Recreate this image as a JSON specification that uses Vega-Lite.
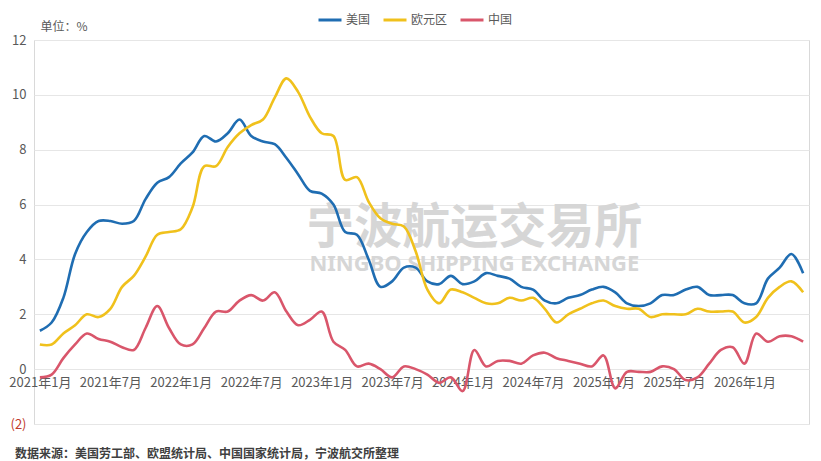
{
  "$schema": "https://vega.github.io/schema/vega-lite/v6.json",
  "autosize": "none",
  "width": 775,
  "height": 384,
  "padding": {"left": 34, "top": 40, "right": 12, "bottom": 37},
  "background": "white",
  "config": {
    "font": "Noto Sans CJK SC",
    "view": {"stroke": "#d9d9d9", "strokeWidth": 1}
  },
  "title": {
    "text": "数据来源：美国劳工部、欧盟统计局、中国国家统计局，宁波航交所整理",
    "orient": "bottom",
    "anchor": "start",
    "frame": "group",
    "dx": -19,
    "offset": 18,
    "baseline": "top",
    "fontSize": 12,
    "fontWeight": "bold",
    "color": "#404040",
    "font": "Noto Sans CJK SC"
  },
  "datasets": {
    "cpi": [
      {"m": "2021年1月", "美国": 1.4, "欧元区": 0.9, "中国": -0.3},
      {"m": "2021年2月", "美国": 1.7, "欧元区": 0.9, "中国": -0.2},
      {"m": "2021年3月", "美国": 2.6, "欧元区": 1.3, "中国": 0.4},
      {"m": "2021年4月", "美国": 4.2, "欧元区": 1.6, "中国": 0.9},
      {"m": "2021年5月", "美国": 5.0, "欧元区": 2.0, "中国": 1.3},
      {"m": "2021年6月", "美国": 5.4, "欧元区": 1.9, "中国": 1.1},
      {"m": "2021年7月", "美国": 5.4, "欧元区": 2.2, "中国": 1.0},
      {"m": "2021年8月", "美国": 5.3, "欧元区": 3.0, "中国": 0.8},
      {"m": "2021年9月", "美国": 5.4, "欧元区": 3.4, "中国": 0.7},
      {"m": "2021年10月", "美国": 6.2, "欧元区": 4.1, "中国": 1.5},
      {"m": "2021年11月", "美国": 6.8, "欧元区": 4.9, "中国": 2.3},
      {"m": "2021年12月", "美国": 7.0, "欧元区": 5.0, "中国": 1.5},
      {"m": "2022年1月", "美国": 7.5, "欧元区": 5.1, "中国": 0.9},
      {"m": "2022年2月", "美国": 7.9, "欧元区": 5.9, "中国": 0.9},
      {"m": "2022年3月", "美国": 8.5, "欧元区": 7.4, "中国": 1.5},
      {"m": "2022年4月", "美国": 8.3, "欧元区": 7.4, "中国": 2.1},
      {"m": "2022年5月", "美国": 8.6, "欧元区": 8.1, "中国": 2.1},
      {"m": "2022年6月", "美国": 9.1, "欧元区": 8.6, "中国": 2.5},
      {"m": "2022年7月", "美国": 8.5, "欧元区": 8.9, "中国": 2.7},
      {"m": "2022年8月", "美国": 8.3, "欧元区": 9.1, "中国": 2.5},
      {"m": "2022年9月", "美国": 8.2, "欧元区": 9.9, "中国": 2.8},
      {"m": "2022年10月", "美国": 7.7, "欧元区": 10.6, "中国": 2.1},
      {"m": "2022年11月", "美国": 7.1, "欧元区": 10.1, "中国": 1.6},
      {"m": "2022年12月", "美国": 6.5, "欧元区": 9.2, "中国": 1.8},
      {"m": "2023年1月", "美国": 6.4, "欧元区": 8.6, "中国": 2.1},
      {"m": "2023年2月", "美国": 6.0, "欧元区": 8.5, "中国": 1.0},
      {"m": "2023年3月", "美国": 5.0, "欧元区": 6.9, "中国": 0.7},
      {"m": "2023年4月", "美国": 4.9, "欧元区": 7.0, "中国": 0.1},
      {"m": "2023年5月", "美国": 4.0, "欧元区": 6.1, "中国": 0.2},
      {"m": "2023年6月", "美国": 3.0, "欧元区": 5.5, "中国": 0.0},
      {"m": "2023年7月", "美国": 3.2, "欧元区": 5.3, "中国": -0.3},
      {"m": "2023年8月", "美国": 3.7, "欧元区": 5.2, "中国": 0.1},
      {"m": "2023年9月", "美国": 3.7, "欧元区": 4.3, "中国": 0.0},
      {"m": "2023年10月", "美国": 3.2, "欧元区": 2.9, "中国": -0.2},
      {"m": "2023年11月", "美国": 3.1, "欧元区": 2.4, "中国": -0.5},
      {"m": "2023年12月", "美国": 3.4, "欧元区": 2.9, "中国": -0.3},
      {"m": "2024年1月", "美国": 3.1, "欧元区": 2.8, "中国": -0.8},
      {"m": "2024年2月", "美国": 3.2, "欧元区": 2.6, "中国": 0.7},
      {"m": "2024年3月", "美国": 3.5, "欧元区": 2.4, "中国": 0.1},
      {"m": "2024年4月", "美国": 3.4, "欧元区": 2.4, "中国": 0.3},
      {"m": "2024年5月", "美国": 3.3, "欧元区": 2.6, "中国": 0.3},
      {"m": "2024年6月", "美国": 3.0, "欧元区": 2.5, "中国": 0.2},
      {"m": "2024年7月", "美国": 2.9, "欧元区": 2.6, "中国": 0.5},
      {"m": "2024年8月", "美国": 2.5, "欧元区": 2.2, "中国": 0.6},
      {"m": "2024年9月", "美国": 2.4, "欧元区": 1.7, "中国": 0.4},
      {"m": "2024年10月", "美国": 2.6, "欧元区": 2.0, "中国": 0.3},
      {"m": "2024年11月", "美国": 2.7, "欧元区": 2.2, "中国": 0.2},
      {"m": "2024年12月", "美国": 2.9, "欧元区": 2.4, "中国": 0.1},
      {"m": "2025年1月", "美国": 3.0, "欧元区": 2.5, "中国": 0.5},
      {"m": "2025年2月", "美国": 2.8, "欧元区": 2.3, "中国": -0.7},
      {"m": "2025年3月", "美国": 2.4, "欧元区": 2.2, "中国": -0.1},
      {"m": "2025年4月", "美国": 2.3, "欧元区": 2.2, "中国": -0.1},
      {"m": "2025年5月", "美国": 2.4, "欧元区": 1.9, "中国": -0.1},
      {"m": "2025年6月", "美国": 2.7, "欧元区": 2.0, "中国": 0.1},
      {"m": "2025年7月", "美国": 2.7, "欧元区": 2.0, "中国": 0.0},
      {"m": "2025年8月", "美国": 2.9, "欧元区": 2.0, "中国": -0.4},
      {"m": "2025年9月", "美国": 3.0, "欧元区": 2.2, "中国": -0.3},
      {"m": "2025年10月", "美国": 2.7, "欧元区": 2.1, "中国": 0.2},
      {"m": "2025年11月", "美国": 2.7, "欧元区": 2.1, "中国": 0.7},
      {"m": "2025年12月", "美国": 2.7, "欧元区": 2.1, "中国": 0.8},
      {"m": "2026年1月", "美国": 2.4, "欧元区": 1.7, "中国": 0.2},
      {"m": "2026年2月", "美国": 2.4, "欧元区": 1.9, "中国": 1.3},
      {"m": "2026年3月", "美国": 3.3, "欧元区": 2.6, "中国": 1.0},
      {"m": "2026年4月", "美国": 3.7, "欧元区": 3.0, "中国": 1.2},
      {"m": "2026年5月", "美国": 4.2, "欧元区": 3.2, "中国": 1.2},
      {"m": "2026年6月", "美国": 3.5, "欧元区": 2.8, "中国": 1.0}
    ]
  },
  "layer": [
    {
      "data": {"values": [{"m": "2024年2月", "v": 5.1, "t": "宁波航运交易所"}]},
      "mark": {"type": "text", "font": "Noto Sans CJK SC", "fontWeight": "bold", "fontSize": 48, "color": "#d6d6d6", "align": "center", "baseline": "middle"},
      "encoding": {
        "x": {"field": "m", "type": "ordinal"},
        "y": {"field": "v", "type": "quantitative"},
        "text": {"field": "t"}
      }
    },
    {
      "data": {"values": [{"m": "2024年2月", "v": 3.85, "t": "NINGBO SHIPPING EXCHANGE"}]},
      "mark": {"type": "text", "font": "Noto Sans", "fontWeight": "bold", "fontSize": 22, "color": "#d6d6d6", "align": "center", "baseline": "middle"},
      "encoding": {
        "x": {"field": "m", "type": "ordinal"},
        "y": {"field": "v", "type": "quantitative"},
        "text": {"field": "t"}
      }
    },
    {
      "data": {"name": "cpi"},
      "transform": [{"fold": ["美国", "欧元区", "中国"], "as": ["series", "value"]}],
      "mark": {"type": "line", "interpolate": "catmull-rom", "strokeWidth": 2.6},
      "encoding": {
        "x": {
          "field": "m",
          "type": "ordinal",
          "sort": null,
          "scale": {
            "type": "point",
            "padding": 0.5,
            "domain": [
              "2021年1月", "2021年2月", "2021年3月", "2021年4月", "2021年5月", "2021年6月", "2021年7月", "2021年8月", "2021年9月", "2021年10月", "2021年11月", "2021年12月",
              "2022年1月", "2022年2月", "2022年3月", "2022年4月", "2022年5月", "2022年6月", "2022年7月", "2022年8月", "2022年9月", "2022年10月", "2022年11月", "2022年12月",
              "2023年1月", "2023年2月", "2023年3月", "2023年4月", "2023年5月", "2023年6月", "2023年7月", "2023年8月", "2023年9月", "2023年10月", "2023年11月", "2023年12月",
              "2024年1月", "2024年2月", "2024年3月", "2024年4月", "2024年5月", "2024年6月", "2024年7月", "2024年8月", "2024年9月", "2024年10月", "2024年11月", "2024年12月",
              "2025年1月", "2025年2月", "2025年3月", "2025年4月", "2025年5月", "2025年6月", "2025年7月", "2025年8月", "2025年9月", "2025年10月", "2025年11月", "2025年12月",
              "2026年1月", "2026年2月", "2026年3月", "2026年4月", "2026年5月", "2026年6月"
            ]
          },
          "axis": {
            "title": null,
            "values": ["2021年1月", "2021年7月", "2022年1月", "2022年7月", "2023年1月", "2023年7月", "2024年1月", "2024年7月", "2025年1月", "2025年7月", "2026年1月"],
            "labelAngle": 0,
            "labelAlign": "center",
            "labelBaseline": "top",
            "labelFontSize": 13,
            "labelColor": "#595959",
            "labelPadding": 7,
            "labelOverlap": false,
            "labelFlush": false,
            "domain": false,
            "ticks": false,
            "grid": false,
            "offset": -55
          }
        },
        "y": {
          "field": "value",
          "type": "quantitative",
          "scale": {"domain": [-2, 12], "nice": false, "zero": false},
          "axis": {
            "title": "单位：%",
            "titleAngle": 0,
            "titleAlign": "left",
            "titleBaseline": "middle",
            "titleX": 6,
            "titleY": -14,
            "titleFontSize": 12,
            "titleFontWeight": "normal",
            "titleColor": "#595959",
            "values": [-2, 0, 2, 4, 6, 8, 10, 12],
            "labelExpr": "datum.value < 0 ? '(' + abs(datum.value) + ')' : datum.label",
            "labelColor": {"condition": {"test": "datum.value < 0", "value": "#c0392b"}, "value": "#595959"},
            "labelFontSize": 13,
            "labelPadding": 8,
            "domain": false,
            "ticks": false,
            "grid": true,
            "gridColor": "#e6e6e6"
          }
        },
        "color": {
          "field": "series",
          "type": "nominal",
          "scale": {"domain": ["美国", "欧元区", "中国"], "range": ["#1f6db2", "#f0c11c", "#d9566b"]},
          "legend": {
            "orient": "none",
            "legendX": 283,
            "legendY": -33,
            "direction": "horizontal",
            "title": null,
            "symbolType": "stroke",
            "symbolSize": 529,
            "symbolStrokeWidth": 3,
            "labelFontSize": 12,
            "labelColor": "#595959",
            "labelOffset": 3,
            "columnPadding": 6,
            "padding": 0
          }
        }
      }
    }
  ]
}
